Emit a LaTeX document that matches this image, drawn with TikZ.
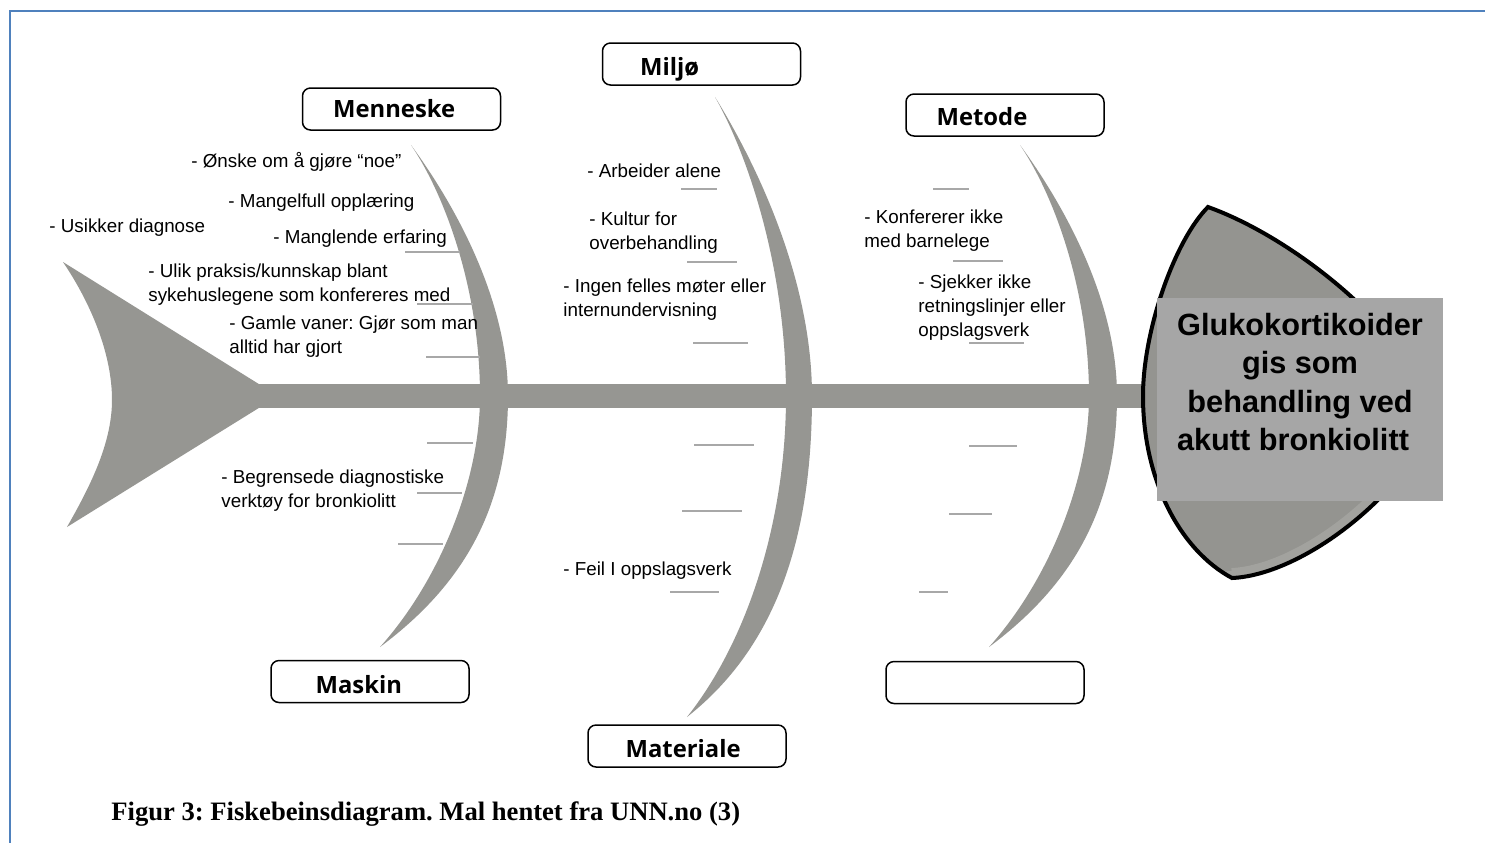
\documentclass[tikz,border=0pt]{standalone}
\usepackage{fontspec}
\setmainfont{Liberation Sans}
\newfontfamily\boxfont{Open Sans}
\newfontfamily\capfont{Liberation Serif}
\usepackage{tikz}
\usetikzlibrary{calc,positioning}
\frenchspacing
\definecolor{bonegray}{RGB}{150,150,146}
\definecolor{headgray}{RGB}{148,148,144}
\definecolor{headlight}{RGB}{162,162,158}
\definecolor{effgray}{RGB}{166,166,166}
\definecolor{leadgray}{RGB}{168,168,168}
\definecolor{frameblue}{RGB}{79,129,189}
\tikzset{
   bone/.style={fill=bonegray, draw=none},
   leader/.style={draw=leadgray, line width=0.9pt},
   catbox/.style={draw=black, line width=0.75pt, rounded corners=4pt, fill=white,
                  minimum width=99pt, minimum height=21pt, inner sep=0pt},
   cattext/.style={font=\boxfont\bfseries\fontsize{11.9}{14}\selectfont, anchor=base west, inner sep=0pt},
   cause/.style={font=\fontsize{9.4}{12}\selectfont, align=left, anchor=west, inner sep=0pt},
   effect/.style={font=\bfseries\fontsize{15.35}{19.1}\selectfont, align=center, inner sep=0pt},
   framebox/.style={draw=frameblue, line width=1.2pt}
}

\begin{document}
\begin{tikzpicture}[x=0.5pt,y=-0.5pt]
\useasboundingbox (0,0) rectangle (1485,843);

% frame
\draw[framebox] (1485,11) -- (10,11) -- (10,843);

% tail and spine
\fill[bone] (63,262) -- (262,386) -- (262,406) -- (67,527)
   .. controls (88,490) and (112,445) .. (112,400)
   .. controls (112,355) and (92,305) .. (63,262) -- cycle;
\fill[bone] (255,384) rectangle (1160,408);

% bones
\fill[bone] (411,145) .. controls (455,205) and (508,300) .. (508,396)
   .. controls (508,500) and (470,580) .. (380,647)
   .. controls (440,580) and (480,480) .. (480,396)
   .. controls (480,290) and (445,195) .. (411,145) -- cycle;
\fill[bone] (715,97) .. controls (759,168) and (812,282) .. (812,396)
   .. controls (812,520) and (785,640) .. (687,717)
   .. controls (748,640) and (786,520) .. (786,396)
   .. controls (786,270) and (749,157) .. (715,97) -- cycle;
\fill[bone] (1020,145) .. controls (1064,205) and (1117,300) .. (1117,396)
   .. controls (1117,500) and (1079,580) .. (989,647)
   .. controls (1049,580) and (1089,480) .. (1089,396)
   .. controls (1089,290) and (1054,195) .. (1020,145) -- cycle;

% head
\fill[headgray]
   (1208,207) .. controls (1175,240) and (1143,330) .. (1143,396)
   .. controls (1143,480) and (1180,550) .. (1232,578)
   .. controls (1300,575) and (1400,500) .. (1435,420)
   .. controls (1420,340) and (1300,240) .. (1208,207) -- cycle;
\begin{scope}
\clip (1208,207) .. controls (1175,240) and (1143,330) .. (1143,396)
   .. controls (1143,480) and (1180,550) .. (1232,578)
   .. controls (1300,575) and (1400,500) .. (1435,420)
   .. controls (1420,340) and (1300,240) .. (1208,207) -- cycle;
\draw[headlight, line width=10pt] (1190,585) .. controls (1260,578) and (1300,575) .. (1232,578)
   (1232,578) .. controls (1300,575) and (1400,500) .. (1435,420);
\end{scope}
\draw[black, line width=2pt]
   (1208,207) .. controls (1175,240) and (1143,330) .. (1143,396)
   .. controls (1143,480) and (1180,550) .. (1232,578)
   .. controls (1300,575) and (1400,500) .. (1435,420)
   .. controls (1420,340) and (1300,240) .. (1208,207) -- cycle;
\node[fill=effgray, minimum width=143pt, minimum height=101.5pt, inner sep=0pt] (effbox) at (1300,399.5) {};
\node[effect] (effect) at (1300,382) {Glukokortikoider\\gis som\\behandling ved\\akutt bronkiolitt\hspace*{7pt}};

% categories
\node[catbox] (menneske) at (401.5,109) {};
\node[catbox] (miljo) at (701.5,64) {};
\node[catbox] (metode) at (1005,115) {};
\node[catbox] (maskin) at (370,681.5) {};
\node[catbox] (materiale) at (687,746) {};
\node[catbox] (tom) at (985,682.5) {};
\node[cattext] (menneske-t) at ($(menneske.west)+(31,8)$) {Menneske};
\node[cattext] (miljo-t) at ($(miljo.west)+(38,11)$) {Miljø};
\node[cattext] (metode-t) at ($(metode.west)+(31,10)$) {Metode};
\node[cattext] (maskin-t) at ($(maskin.west)+(45,11.5)$) {Maskin};
\node[cattext] (materiale-t) at ($(materiale.west)+(38,11)$) {Materiale};

% causes
\node[cause] (onske) at (191,162) {- Ønske om å gjøre “noe”};
\node[cause] (opplaering) at (228,203) {- Mangelfull opplæring};
\node[cause] (diagnose) at (49,228) {- Usikker diagnose};
\node[cause] (erfaring) at (273,239) {- Manglende erfaring};
\node[cause] (praksis) at (148,284.5) {- Ulik praksis/kunnskap blant\\sykehuslegene som konfereres med};
\node[cause] (vaner) at (229,336.5) {- Gamle vaner: Gjør som man\\alltid har gjort};
\node[cause] (verktoy) at (221,491) {- Begrensede diagnostiske\\verktøy for bronkiolitt};
\node[cause] (alene) at (587,171) {- Arbeider alene};
\node[cause] (kultur) at (589,233) {- Kultur for\\overbehandling};
\node[cause] (moter) at (563,300) {- Ingen felles møter eller\\internundervisning};
\node[cause] (feil) at (563,571) {- Feil I oppslagsverk};
\node[cause] (barnelege) at (864,231) {- Konfererer ikke\\med barnelege};
\node[cause] (sjekker) at (918,307.5) {- Sjekker ikke\\retningslinjer eller\\oppslagsverk};

% leader lines
\draw[leader]
   (405,252) -- (460,252) (417,304) -- (473,304) (426,357) -- (480,357)
   (427,443) -- (473,443) (417,493) -- (462,493) (398,544) -- (443,544)
   (681,189) -- (717,189) (687,262) -- (737,262) (693,343) -- (748,343)
   (694,445) -- (754,445) (682,511) -- (742,511) (670,592) -- (719,592)
   (933,189) -- (969,189) (953,261) -- (1003,261) (969,343) -- (1024,343)
   (969,446) -- (1017,446) (949,514) -- (992,514) (919,592) -- (948,592);

% caption
\node[font=\capfont\bfseries\fontsize{13.3}{15}\selectfont, anchor=base west, inner sep=0pt] (caption) at (111,820)
   {Figur 3: Fiskebeinsdiagram. Mal hentet fra UNN.no (3)};

\end{tikzpicture}
\end{document}
